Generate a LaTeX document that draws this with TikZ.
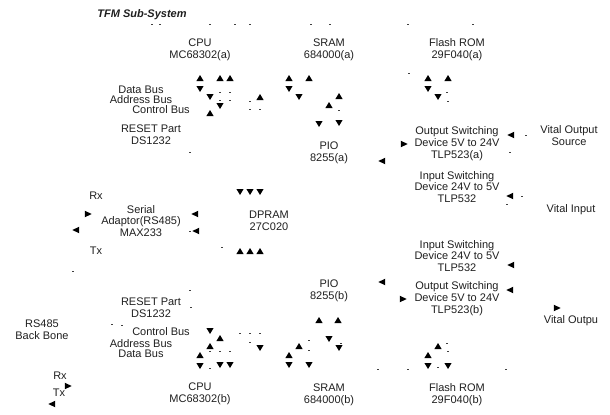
\documentclass[tikz,border=0pt]{standalone}
\usepackage{fontspec}
\setmainfont{Liberation Sans}
\newcommand{\pxfont}{\fontsize{8.25pt}{8.9pt}\selectfont}
\tikzset{
  x=0.75pt,y=-0.75pt,
  lbl/.style={inner sep=0pt,align=center,font=\pxfont,text=black!88},
  tipU/.pic={\fill[black] (-3.6,3) -- (0,-3) -- (3.6,3) -- cycle;},
  tipD/.pic={\fill[black] (-3.6,-3) -- (0,3) -- (3.6,-3) -- cycle;},
  tipL/.pic={\fill[black] (3.2,-3.3) -- (-3.6,0) -- (3.2,3.3) -- cycle;},
  tipR/.pic={\fill[black] (-3.2,-3.3) -- (3.6,0) -- (-3.2,3.3) -- cycle;},
}
\newcommand{\tips}[2]{\foreach \a/\b in {#2} \pic at (\a,\b) {tip#1};}
\newcommand{\specks}[1]{\foreach \a/\b in {#1} \fill[black!75] (\a-0.8,\b-0.5) rectangle (\a+0.8,\b+0.5);}
\begin{document}
\begin{tikzpicture}
\useasboundingbox (0,0) rectangle (610,414);
% text
\node[lbl,font=\pxfont\bfseries\itshape] (title) at (142,15) {TFM Sub-System};
\node[lbl] (cpua) at (200,49.5) {CPU\\MC68302(a)};
\node[lbl] (srama) at (329,49.5) {SRAM\\684000(a)};
\node[lbl] (roma) at (457,49.5) {Flash ROM\\29F040(a)};
\node[lbl] (dba) at (141,90) {Data Bus};
\node[lbl] (aba) at (141,99.5) {Address Bus};
\node[lbl] (cba) at (161,110) {Control Bus};
\node[lbl] (reseta) at (151,135) {RESET Part\\DS1232};
\node[lbl] (pioa) at (329,152.5) {PIO\\8255(a)};
\node[lbl] (outa) at (457,144) {Output Switching\\Device 5V to 24V\\TLP523(a)};
\node[lbl] (vos) at (569,136) {Vital Output\\Source};
\node[lbl] (ina) at (457,187) {Input Switching\\Device 24V to 5V\\TLP532};
\node[lbl] (vin) at (571,210) {Vital Input};
\node[lbl] (rx) at (96,196) {Rx};
\node[lbl] (tx) at (96,251) {Tx};
\node[lbl] (serial) at (141,221) {Serial\\Adaptor(RS485)\\MAX233};
\node[lbl] (dpram) at (269,221) {DPRAM\\27C020};
\node[lbl] (inb) at (457,256) {Input Switching\\Device 24V to 5V\\TLP532};
\node[lbl] (outb) at (457,299) {Output Switching\\Device 5V to 24V\\TLP523(b)};
\node[lbl] (piob) at (329,291) {PIO\\8255(b)};
\node[lbl] (resetb) at (151,308) {RESET Part\\DS1232};
\node[lbl] (rs) at (42,329.5) {RS485\\Back Bone};
\node[lbl] (vob) at (571,321) {Vital Outpu};
\node[lbl] (cbb) at (161,332) {Control Bus};
\node[lbl] (abb) at (141,344) {Address Bus};
\node[lbl] (dbb) at (141,354) {Data Bus};
\node[lbl] (rxb) at (60,376) {Rx};
\node[lbl] (txb) at (59,393) {Tx};
\node[lbl] (cpub) at (200,394) {CPU\\MC68302(b)};
\node[lbl] (sramb) at (329,394.5) {SRAM\\684000(b)};
\node[lbl] (romb) at (457,395) {Flash ROM\\29F040(b)};
% arrowheads
\tips{U}{200/78,220/78,230/78,210/113,260/97,289/78,309/78,339/96,329/105,428/78,448/78,240/251,250/251,260/251,220/338,210/346,200/355,299/346,289/355,319/320,338/320,438/346,428/355}
\tips{D}{200/89,210/97,220/106,289/89,299/97,319/124,339/123,428/89,438/97,240/192,250/192,260/192,210/331,200/366,220/365,230/365,260/348,289/365,329/339,339/348,309/365,428/366,448/366}
\tips{L}{382/161,511/135,510/196,195/214,76/230,196/231,52/404,382/282,511/265,510/290}
\tips{R}{404/144,88/214,68/386,403/299,557/308}
% specks
\specks{152/24,160/24,210/24,235/24,250/24,190/152,220/92,230/92,220/100,230/100,250/101,250/109,260/109,311/24,330/24,408/24,473/24,409/73,447/92,448/101,339/110,510/152,526/135,522/196,507/204,222/247,190/231,73/271,190/290,191/307,112/324,122/325,240/333,250/333,260/333,250/342,220/351,230/351,210/351,210/368,438/367,378/369,408/369,506/369,447/343,448/351,341/343,309/340,309/350}
\end{tikzpicture}
\end{document}
